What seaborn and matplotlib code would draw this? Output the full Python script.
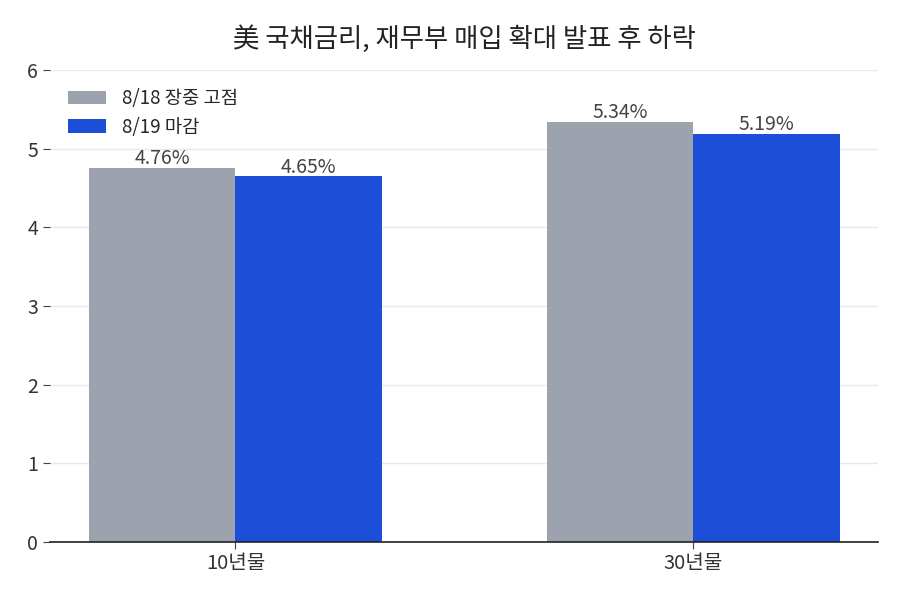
import matplotlib
matplotlib.use("Agg")
import matplotlib.pyplot as plt
import seaborn as sns
import pandas as pd

# data
maturities = ["10년물", "30년물"]
series_names = ["8/18 장중 고점", "8/19 마감"]
high_818 = [4.76, 5.34]
close_819 = [4.65, 5.19]
colors = ["#9CA3AF", "#1D4ED8"]

df = pd.DataFrame({
    "만기": maturities * 2,
    "구분": [series_names[0]] * 2 + [series_names[1]] * 2,
    "금리": high_818 + close_819,
})

sns.set_style("white")
plt.rcParams["font.family"] = ["Noto Sans CJK KR", "DejaVu Sans"]

fig = plt.figure(figsize=(9, 6), dpi=100)
ax = fig.add_axes([0.056, 0.097, 0.92, 0.786])

sns.barplot(data=df, x="만기", y="금리", hue="구분", palette=colors,
            width=0.64, saturation=1, linewidth=0, ax=ax, zorder=2)

for cont in ax.containers:
    ax.bar_label(cont, labels=[f"{v:.2f}%" for v in cont.datavalues],
                 fontsize=14, color="#444444", padding=-1)

ax.set_ylim(0, 6)
ax.set_xlim(-0.404, 1.404)
ax.set_yticks(range(0, 7))
ax.yaxis.grid(True, color="#e8e8ec", linewidth=1, zorder=0)
ax.set_axisbelow(True)
ax.set_xlabel("")
ax.set_ylabel("")
ax.set_title("美 국채금리, 재무부 매입 확대 발표 후 하락", fontsize=19, color="#222222", pad=17)

for s in ["left", "right", "top"]:
    ax.spines[s].set_visible(False)
ax.spines["bottom"].set_color("#222222")
ax.spines["bottom"].set_linewidth(1.2)
ax.tick_params(axis="y", left=True, length=5, color="#444444", labelsize=14,
               labelcolor="#333333", pad=4)
ax.tick_params(axis="x", bottom=True, length=5, color="#444444", labelsize=14.5,
               labelcolor="#333333", pad=3)

leg = ax.legend(loc="upper left", frameon=False, fontsize=13.5, handlelength=2.0,
                handleheight=0.7, borderaxespad=0.55, labelspacing=0.4, handletextpad=0.85)

fig.savefig("out.png", dpi=100)
